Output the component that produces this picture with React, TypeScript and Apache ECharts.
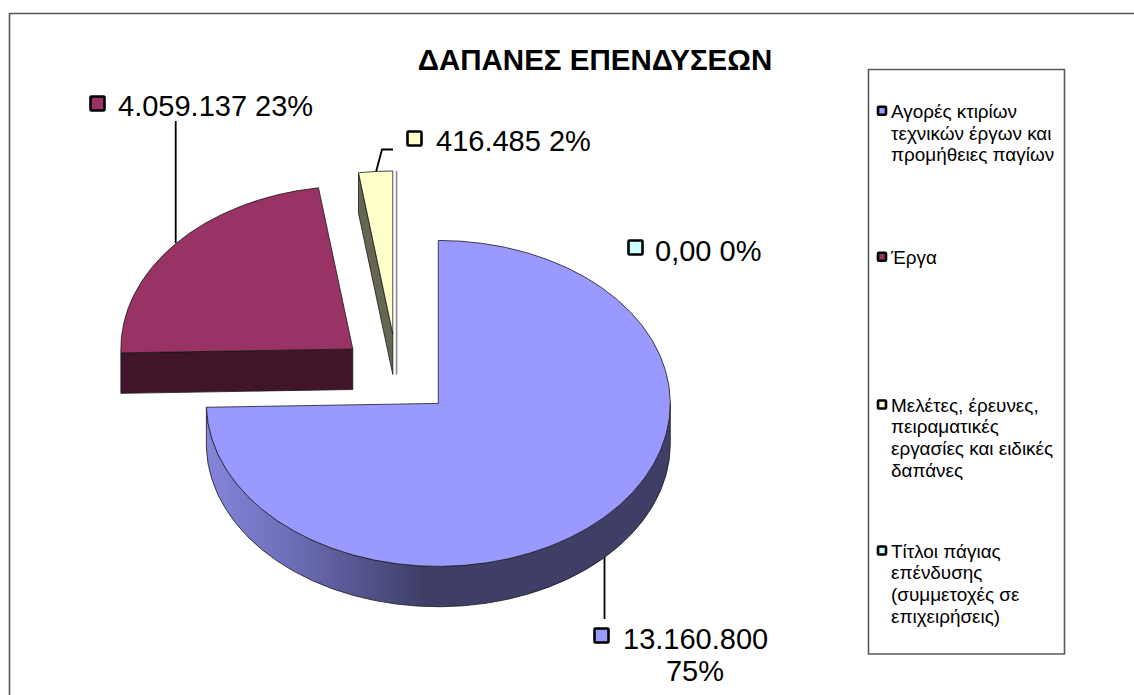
import React, { useEffect, useRef } from "react";
import * as echarts from "echarts";

const titleText = "ΔΑΠΑΝΕΣ ΕΠΕΝΔΥΣΕΩΝ";
const categories = [
  "Αγορές κτιρίων\nτεχνικών έργων και\nπρομήθειες παγίων",
  "Έργα",
  "Μελέτες, έρευνες,\nπειραματικές\nεργασίες και ειδικές\nδαπάνες",
  "Τίτλοι πάγιας\nεπένδυσης\n(συμμετοχές σε\nεπιχειρήσεις)",
];
const values = [13160800, 4059137, 416485, 0];
const valueLabels = ["13.160.800\n75%", "4.059.137 23%", "416.485 2%", "0,00 0%"];
const topColors = ["#9999FF", "#993366", "#FFFFCC", "#CCFFFF"];

const sliceApex = [[438.3, 403.4], [352.8, 349], [392.8, 334], [396.6, 334]];
const labelBoxes = [[593, 627], [89, 95], [406, 130], [627, 239]];
const labelTexts: [number, number][] = [[623, 638.5], [118, 106], [436, 141], [655, 251]];
const legendTops = [111.3, 257.3, 405, 551];
const FONT = '"Liberation Sans", Arial, sans-serif';
const RX = 232, RY = 163, DEPTH = 40.5;
const total = values.reduce((a, b) => a + b, 0);

function pt(c: number[], deg: number, dy = 0) {
  const a = (deg * Math.PI) / 180;
  return [c[0] + RX * Math.sin(a), c[1] - RY * Math.cos(a) + dy];
}
const f = (p: number[]) => `${p[0].toFixed(2)} ${p[1].toFixed(2)}`;

function renderSlice(params: any, api: any) {
  const i = params.dataIndex;
  const v = api.value(0);
  let before = 0;
  for (let k = 0; k < i; k++) before += values[k];
  const a0 = (before / total) * 360;
  const a1 = ((before + v) / total) * 360;
  const c = sliceApex[i];
  const edge = { stroke: "#1a1a1a", lineWidth: 0.8 };
  const children: any[] = [];
  const large = a1 - a0 > 180 ? 1 : 0;

  if (v === 0) {
    children.push({
      type: "line",
      shape: { x1: c[0], y1: c[1] - RY, x2: c[0], y2: c[1] + DEPTH },
      style: { stroke: "#8c8c8c", lineWidth: 1.6 },
    });
  } else {
    if (i === 0) {
      const s = pt(c, 90), e = pt(c, a1);
      const sd = pt(c, 90, DEPTH), ed = pt(c, a1, DEPTH);
      children.push({
        type: "path",
        shape: {
          pathData: `M${f(s)} A${RX} ${RY} 0 0 1 ${f(e)} L${f(ed)} A${RX} ${RY} 0 0 0 ${f(sd)} Z`,
        },
        style: {
          fill: new echarts.graphic.LinearGradient(0, 0, 1, 0, [
            { offset: 0, color: "#8585DC" },
            { offset: 0.2, color: "#6B6BB4" },
            { offset: 0.47, color: "#3E3E66" },
            { offset: 1, color: "#3E3E66" },
          ]),
          ...edge,
        },
      });
    }
    if (i === 1) {
      const s = pt(c, a0), sd = pt(c, a0, DEPTH);
      children.push({
        type: "polygon",
        shape: { points: [s, c, [c[0], c[1] + DEPTH], sd] },
        style: { fill: "#401429", ...edge },
      });
    }
    if (i === 2) {
      const e = pt(c, a0), ed = pt(c, a0, DEPTH);
      children.push({
        type: "polygon",
        shape: { points: [e, c, [c[0], c[1] + DEPTH], ed] },
        style: { fill: "#666652", ...edge },
      });
    }
    const p0 = pt(c, a0), p1 = pt(c, a1);
    children.push({
      type: "path",
      shape: {
        pathData: `M${f(c)} L${f(p0)} A${RX} ${RY} 0 ${large} 1 ${f(p1)} Z`,
      },
      style: { fill: topColors[i], ...edge },
    });
  }
  return { type: "group", children };
}

function renderLabel(params: any) {
  const i = params.dataIndex;
  const b = labelBoxes[i];
  const t = labelTexts[i];
  const lines = valueLabels[i].split("\n");
  const children: any[] = [
    {
      type: "rect",
      shape: { x: b[0] + 1.5, y: b[1] + 1.5, width: 14, height: 14, r: 1 },
      style: { fill: topColors[i], stroke: "#000", lineWidth: 2.6 },
    },
    {
      type: "text",
      x: t[0],
      y: t[1],
      style: { text: lines[0], font: `29px ${FONT}`, fill: "#000", textAlign: "left", textVerticalAlign: "middle" },
    },
  ];
  if (lines[1]) {
    children.push({
      type: "text",
      x: 695,
      y: t[1] + 32.5,
      style: { text: lines[1], font: `29px ${FONT}`, fill: "#000", textAlign: "center", textVerticalAlign: "middle" },
    });
  }
  return { type: "group", children };
}

function legendGraphics() {
  const out: any[] = [
    { type: "rect", shape: { x: 9.5, y: 13.5, width: 1130, height: 690 }, style: { fill: "#fff", stroke: "#555", lineWidth: 1.6 } },
    { type: "rect", shape: { x: 868.5, y: 69.5, width: 196, height: 584.5 }, style: { fill: "#fff", stroke: "#5a5a5a", lineWidth: 1.6 } },
  ];
  categories.forEach((name, i) => {
    out.push({
      type: "rect",
      shape: { x: 878, y: legendTops[i] - 4.5, width: 8, height: 8, r: 1 },
      style: { fill: topColors[i], stroke: "#000", lineWidth: 2.6 },
    });
    name.split("\n").forEach((line, j) => {
      out.push({
        type: "text",
        x: 891,
        y: legendTops[i] + j * 21.7,
        style: { text: line, font: `18.9px ${FONT}`, fill: "#000", textAlign: "left", textVerticalAlign: "middle" },
      });
    });
  });
  return out;
}

function leaderLines() {
  const line = { stroke: "#000", lineWidth: 1.8 };
  return [
    { type: "polyline", shape: { points: [[175.7, 121], [175.7, 243]] }, style: { ...line, fill: "none" } },
    { type: "polyline", shape: { points: [[376, 172], [382, 149.5], [393, 149.5]] }, style: { ...line, fill: "none" } },
    { type: "polyline", shape: { points: [[604.5, 557], [604.5, 619]] }, style: { ...line, fill: "none" } },
  ];
}

export default function App() {
  const ref = useRef<HTMLDivElement>(null);
  useEffect(() => {
    document.body.style.margin = "0";
    const chart = echarts.init(ref.current!, null, { renderer: "svg" });
    chart.setOption({
      animation: false,
      backgroundColor: "#fff",
      title: {
        text: titleText,
        left: 590,
        top: 39,
        textAlign: "center",
        textStyle: { fontFamily: FONT, fontWeight: "bold", fontSize: 29.5, color: "#000" },
      },
      graphic: { elements: legendGraphics().map((e) => ({ ...e, z: -10 })).concat(leaderLines().map((e) => ({ ...e, z: -1 }))) },
      series: [
        {
          type: "custom",
          coordinateSystem: "none",
          renderItem: renderSlice,
          data: values.map((v) => [v]),
          z: 5,
          silent: true,
        },
        {
          type: "custom",
          coordinateSystem: "none",
          renderItem: renderLabel,
          data: valueLabels.map((_, i) => [i]),
          z: 6,
          silent: true,
        },
      ],
    });
    return () => chart.dispose();
  }, []);
  return <div ref={ref} style={{ position: "absolute", left: 0, top: 0, width: 1134, height: 695 }} />;
}
